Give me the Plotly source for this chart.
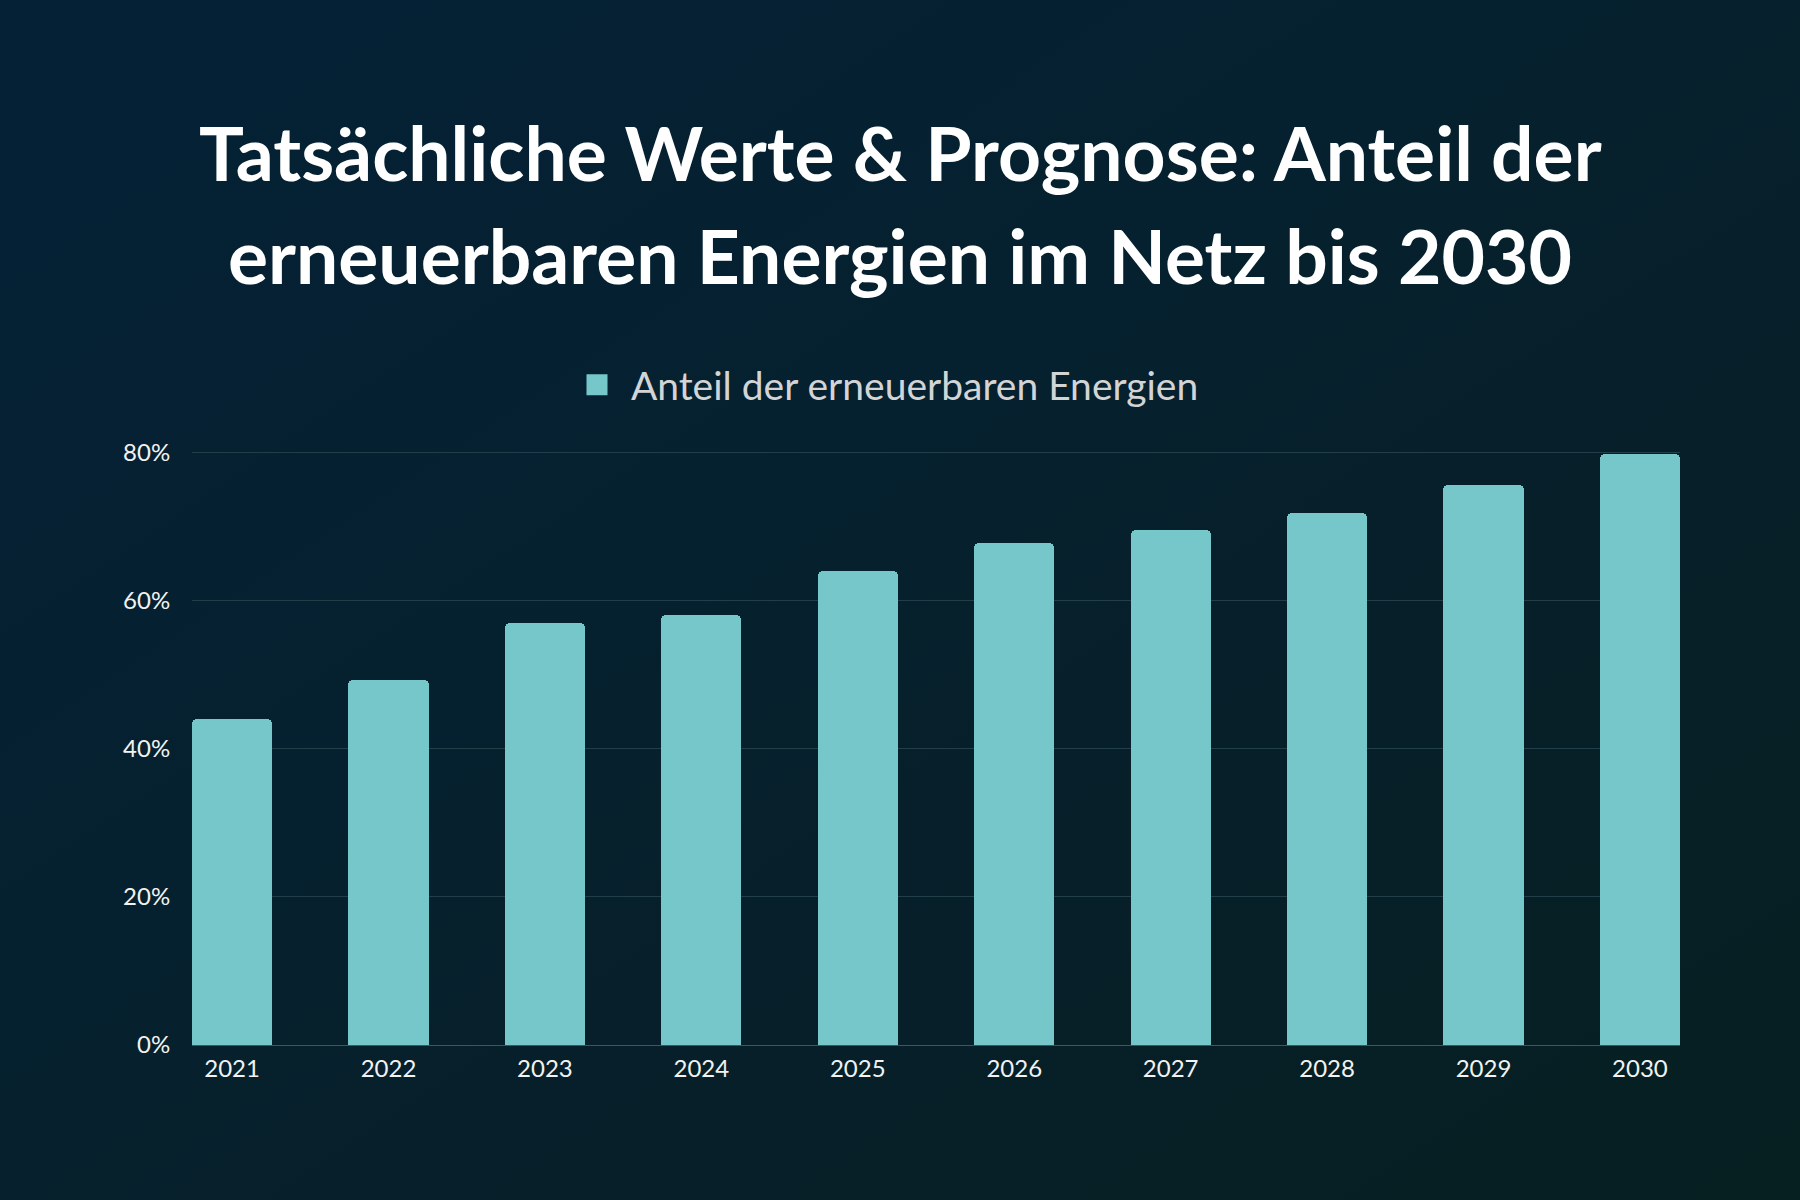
import plotly.graph_objects as go

years = ["2021", "2022", "2023", "2024", "2025", "2026", "2027", "2028", "2029", "2030"]
share = [44.0, 49.3, 57.0, 58.0, 64.0, 67.7, 69.5, 71.8, 75.6, 79.8]
series_name = "Anteil der erneuerbaren Energien"
title_line1 = "Tatsächliche Werte & Prognose: Anteil der"
title_line2 = "erneuerbaren Energien im Netz bis 2030"
y_ticks = [0, 20, 40, 60, 80]
y_ticktext = ["0%", "20%", "40%", "60%", "80%"]

W, H = 1800, 1200
L, R, T, B = 192, 120, 450, 155
pw, ph = W - L - R, H - T - B
BAR = "#76C7CA"
FONT = "Lato"

def px(x):
    return (x - L) / pw

def py(y):
    return (H - B - y) / ph

bw = 0.512

fig = go.Figure()
fig.add_trace(go.Bar(
    x=list(range(len(years))), y=share, width=bw,
    marker=dict(color=BAR, line=dict(width=0), cornerradius=5),
    name=series_name, showlegend=False, hoverinfo="skip",
))
fig.add_trace(go.Scatter(
    x=[None], y=[None], mode="markers", name="\u2009" + series_name,
    marker=dict(symbol="square", size=16, color=BAR, line=dict(color=BAR, width=5)),
))

grad = ("data:image/svg+xml;utf8,"
        "<svg xmlns='http://www.w3.org/2000/svg' width='1800' height='1200' preserveAspectRatio='none'>"
        "<defs><linearGradient id='g' x1='0' y1='0' x2='1' y2='1'>"
        "<stop offset='0' stop-color='%23042136'/>"
        "<stop offset='0.5' stop-color='%2306202d'/>"
        "<stop offset='1' stop-color='%23061f21'/>"
        "</linearGradient></defs>"
        "<rect width='1800' height='1200' fill='url(%23g)'/></svg>")

fig.update_layout(
    width=W, height=H, autosize=False,
    margin=dict(l=L, r=R, t=T, b=B, pad=0),
    paper_bgcolor="#05202d", plot_bgcolor="rgba(0,0,0,0)",
    images=[dict(source=grad, xref="paper", yref="paper",
                 x=px(0), y=py(0), sizex=W / pw, sizey=H / ph,
                 xanchor="left", yanchor="top", sizing="stretch", layer="below")],
    showlegend=True,
    legend=dict(orientation="h", x=px(886), xanchor="center", y=py(385), yanchor="middle",
                font=dict(family=FONT, size=39, color="#d2d4d6"), bgcolor="rgba(0,0,0,0)",
                itemsizing="trace", itemwidth=48),
    bargap=0,
    annotations=[
        dict(text="<b>" + title_line1 + "</b>", xref="paper", yref="paper", x=px(900), y=py(152),
             xanchor="center", yanchor="middle", showarrow=False,
             font=dict(family=FONT, size=75, color="#ffffff")),
        dict(text="<b>" + title_line2 + "</b>", xref="paper", yref="paper", x=px(900), y=py(255),
             xanchor="center", yanchor="middle", showarrow=False,
             font=dict(family=FONT, size=75, color="#ffffff")),
    ],
)

fig.update_xaxes(
    range=[-bw / 2, len(years) - 1 + bw / 2],
    tickmode="array", tickvals=list(range(len(years))), ticktext=years,
    showgrid=False, zeroline=False, showline=False,
    ticks="outside", ticklen=2, tickcolor="rgba(0,0,0,0)",
    tickfont=dict(family=FONT, size=24, color="#f2f2f2"),
)
fig.update_yaxes(
    range=[0, 80.3], tickmode="array", tickvals=y_ticks, ticktext=y_ticktext,
    showgrid=True, gridcolor="#223e49", gridwidth=1,
    zeroline=True, zerolinecolor="#3a5860", zerolinewidth=1,
    showline=False,
    ticks="outside", ticklen=16, tickcolor="rgba(0,0,0,0)",
    tickfont=dict(family=FONT, size=24, color="#f2f2f2"),
)

fig.write_html("out.html", config={"displayModeBar": False},
               post_script="document.body.style.margin='0';")
